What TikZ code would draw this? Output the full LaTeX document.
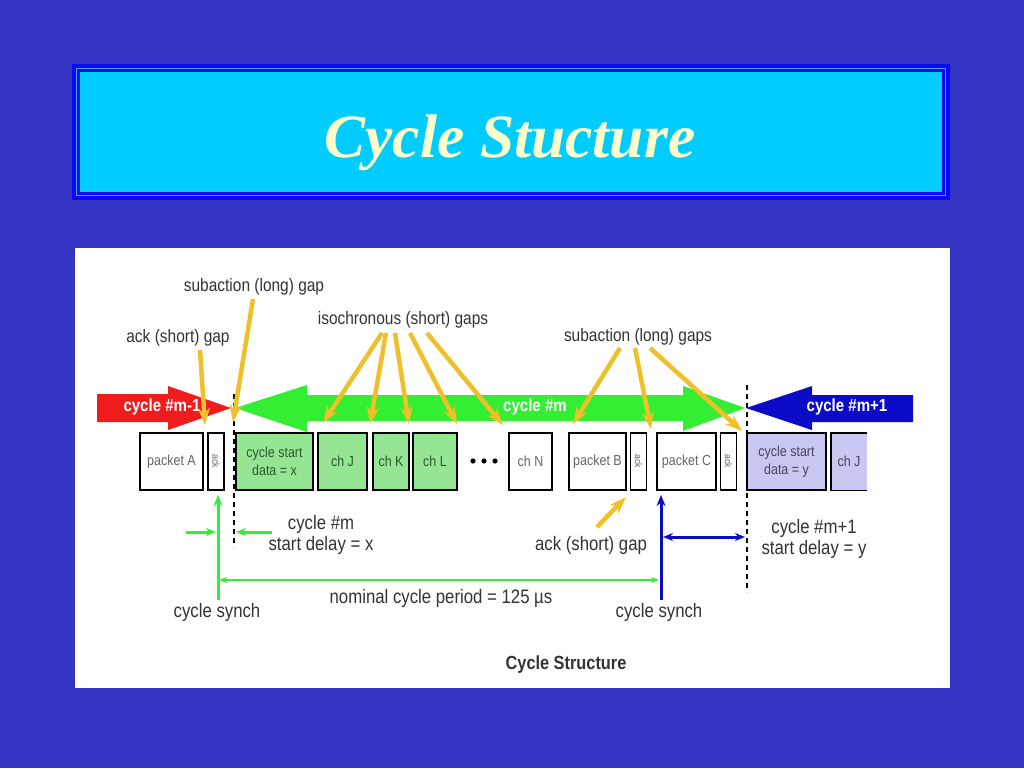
\documentclass[tikz,border=0pt]{standalone}
\usepackage{fontspec}
\setmainfont{Liberation Sans}
\newfontfamily\titlefont{Liberation Serif}
\newfontfamily\cond[FakeStretch=0.86]{Liberation Sans}
\usetikzlibrary{arrows.meta}
\definecolor{bg}{HTML}{3333C4}
\definecolor{frameblue}{HTML}{0A0AF0}
\definecolor{framelight}{HTML}{3FA0FF}
\definecolor{titlecyan}{HTML}{00CCFF}
\definecolor{titletxt}{HTML}{FFFFCC}
\definecolor{bigred}{HTML}{EE1C1C}
\definecolor{biggreen}{HTML}{33EE33}
\definecolor{bigblue}{HTML}{0C0CC8}
\definecolor{boxgreen}{HTML}{95E595}
\definecolor{boxlav}{HTML}{C8C8F2}
\definecolor{gold}{HTML}{F0C02A}
\definecolor{labtext}{HTML}{333333}
\definecolor{boxtext}{HTML}{666666}
\definecolor{greentext}{HTML}{2A5A2A}
\definecolor{lavtext}{HTML}{44445A}
\tikzset{
  box/.style={draw=black, line width=1.4pt, minimum height=57pt, inner sep=0pt,
    font=\cond\fontsize{14.5}{18}\selectfont, text=boxtext, align=center},
  gbox/.style={box, fill=boxgreen, text=greentext},
  ackbox/.style={box, rotate=-90, minimum width=57pt, minimum height=16pt,
    font=\cond\fontsize{10}{11}\selectfont},
  lab/.style={text=labtext, inner sep=0pt, font=\cond\fontsize{18}{20}\selectfont, align=center},
  lowlab/.style={text=labtext, inner sep=0pt, font=\cond\fontsize{19.5}{20.5}\selectfont, align=center},
  arrowtxt/.style={text=white, inner sep=0pt, font=\cond\fontsize{17.5}{20}\selectfont\bfseries},
  ya/.style={draw=gold, line width=4.5pt, -{Stealth[length=17pt,width=12pt]}},
  dashline/.style={draw=black, line width=1.5pt, dash pattern=on 5pt off 4pt},
  gline/.style={draw=biggreen, line width=3pt},
  bline/.style={draw=bigblue, line width=3pt},
}
\begin{document}
\begin{tikzpicture}[x=1pt,y=-1pt]
\useasboundingbox (0,0) rectangle (1024,768);
\fill[bg] (0,0) rectangle (1024,768);
% title frame
\fill[frameblue] (72,64) rectangle (950,200);
\draw[framelight, line width=1.2pt] (76.5,68.5) rectangle (945.5,195.5);
\fill[titlecyan] (80,72) rectangle (942,192);
\node[anchor=base, inner sep=0pt, text=titletxt, font=\titlefont\bfseries\itshape\fontsize{61.5}{70}\selectfont] (title) at (510,157) {Cycle Stucture};
% white panel
\fill[white] (75,248) rectangle (950,688);

% big arrows
\fill[bigred] (97,394) -- (168,394) -- (168,386) -- (231,408) -- (168,430) -- (168,422) -- (97,422) -- cycle;
\fill[biggreen] (235,408) -- (307,385) -- (307,395) -- (683,395) -- (683,386) -- (745,408) -- (683,431) -- (683,421) -- (307,421) -- (307,432) -- cycle;
\fill[bigblue] (746,408) -- (812,386) -- (812,395) -- (913,395) -- (913,422) -- (812,422) -- (812,430) -- cycle;
\node[arrowtxt] (tm1) at (162,407) {cycle \#m-1};
\node[arrowtxt] (tm) at (535,407) {cycle \#m};
\node[arrowtxt] (tp1) at (847,407) {cycle \#m+1};

% boxes
\node[box, minimum width=63pt] (pA) at (171.5,461.5) {packet A};
\node[ackbox] (ackA) at (216,461.5) {ack};
\node[gbox, minimum width=77pt] (csx) at (274.5,461.5) {cycle start\\data = x};
\node[gbox, minimum width=49pt] (chJ) at (342.5,461.5) {ch J};
\node[gbox, minimum width=36pt] (chK) at (391,461.5) {ch K};
\node[gbox, minimum width=44pt] (chL) at (435,461.5) {ch L};
\fill[black] (473,461) circle (2.6) (484,461) circle (2.6) (495,461) circle (2.6);
\node[box, minimum width=43pt] (chN) at (530.5,461.5) {ch N};
\node[box, minimum width=57pt] (pB) at (597.5,461.5) {packet B};
\node[ackbox] (ackB) at (638.5,461.5) {ack};
\node[box, minimum width=59pt] (pC) at (686.5,461.5) {packet C};
\node[ackbox] (ackC) at (728.5,461.5) {ack};
\node[box, fill=boxlav, text=lavtext, minimum width=79pt] (csy) at (786.5,461.5) {cycle start\\data = y};
\node[fill=boxlav, minimum width=36pt, minimum height=57pt, inner sep=0pt, text=lavtext, font=\cond\fontsize{14.5}{18}\selectfont] (chJy) at (849,461.5) {ch J};
\draw[black, line width=1.4pt] (chJy.north east) -- (chJy.north west) -- (chJy.south west) -- (chJy.south east);

% dashed lines
\coordinate (d1t) at (234,394);
\coordinate (d1b) at (234,547);
\coordinate (d2t) at (747,385);
\coordinate (d2b) at (747,592);
\draw[dashline] (d1t) -- (d1b);
\draw[dashline] (d2t) -- (d2b);

% top labels
\node[lab] (lackt) at (178,338) {ack (short) gap};
\node[lab] (lsub) at (254,287) {subaction (long) gap};
\node[lab] (liso) at (403,320) {isochronous (short) gaps};
\node[lab] (lsubs) at (638,337) {subaction (long) gaps};

% yellow arrows
\coordinate (y1s) at (200,350); \coordinate (y1e) at (205,425);
\coordinate (y2s) at (253,299); \coordinate (y2e) at (233,422);
\coordinate (i0) at (382,333); \coordinate (i1) at (386,333); \coordinate (i2) at (395,333);
\coordinate (i3) at (410,333); \coordinate (i4) at (427,333);
\coordinate (g0) at (323,423); \coordinate (g1) at (370,424); \coordinate (g2) at (409,424);
\coordinate (g3) at (457,424); \coordinate (g4) at (503,425);
\coordinate (s1) at (620,348); \coordinate (s2) at (635,348); \coordinate (s3) at (650,348);
\coordinate (e1) at (573,424); \coordinate (e2) at (651,429); \coordinate (e3) at (742,431);
\draw[ya] (y1s) -- (y1e);
\draw[ya] (y2s) -- (y2e);
\draw[ya] (i0) -- (g0);
\draw[ya] (i1) -- (g1);
\draw[ya] (i2) -- (g2);
\draw[ya] (i3) -- (g3);
\draw[ya] (i4) -- (g4);
\draw[ya] (s1) -- (e1);
\draw[ya] (s2) -- (e2);
\draw[ya] (s3) -- (e3);
\coordinate (yb1) at (597,527); \coordinate (yb2) at (626,497);
\draw[ya] (yb1) -- (yb2);

% bottom: synch arrows and dimensions
\coordinate (gsB) at (218,600); \coordinate (gsT) at (218,495);
\draw[gline, -{Stealth[length=11pt,width=9pt]}] (gsB) -- (gsT);
\coordinate (ga1s) at (186,532); \coordinate (ga1e) at (216,532);
\coordinate (ga2s) at (272,532); \coordinate (ga2e) at (236,532);
\draw[gline, -{Stealth[length=10pt,width=8pt]}] (ga1s) -- (ga1e);
\draw[gline, -{Stealth[length=10pt,width=8pt]}] (ga2s) -- (ga2e);
\coordinate (nl) at (219,580); \coordinate (nr) at (659,580);
\draw[draw=biggreen, line width=1.6pt, {Stealth[length=8pt,width=6pt]}-{Stealth[length=8pt,width=6pt]}] (nl) -- (nr);
\coordinate (bsB) at (661,600); \coordinate (bsT) at (661,495);
\draw[bline, -{Stealth[length=11pt,width=9pt]}] (bsB) -- (bsT);
\coordinate (bl) at (663,537); \coordinate (br) at (745,537);
\draw[bline, {Stealth[length=10pt,width=8pt]}-{Stealth[length=10pt,width=8pt]}] (bl) -- (br);

% bottom labels
\node[lowlab] (ldx) at (321,535) {cycle \#m\\start delay = x};
\node[lowlab] (lackb) at (591,545) {ack (short) gap};
\node[lowlab] (ldy) at (814,539) {cycle \#m+1\\start delay = y};
\node[lowlab] (lcs1) at (217,612) {cycle synch};
\node[lowlab] (lnom) at (441,598) {nominal cycle period = 125 µs};
\node[lowlab] (lcs2) at (659,612) {cycle synch};
\node[text=labtext, inner sep=0pt, font=\cond\fontsize{19}{20}\selectfont\bfseries] (lcap) at (566,665) {Cycle Structure};
\end{tikzpicture}
\end{document}
